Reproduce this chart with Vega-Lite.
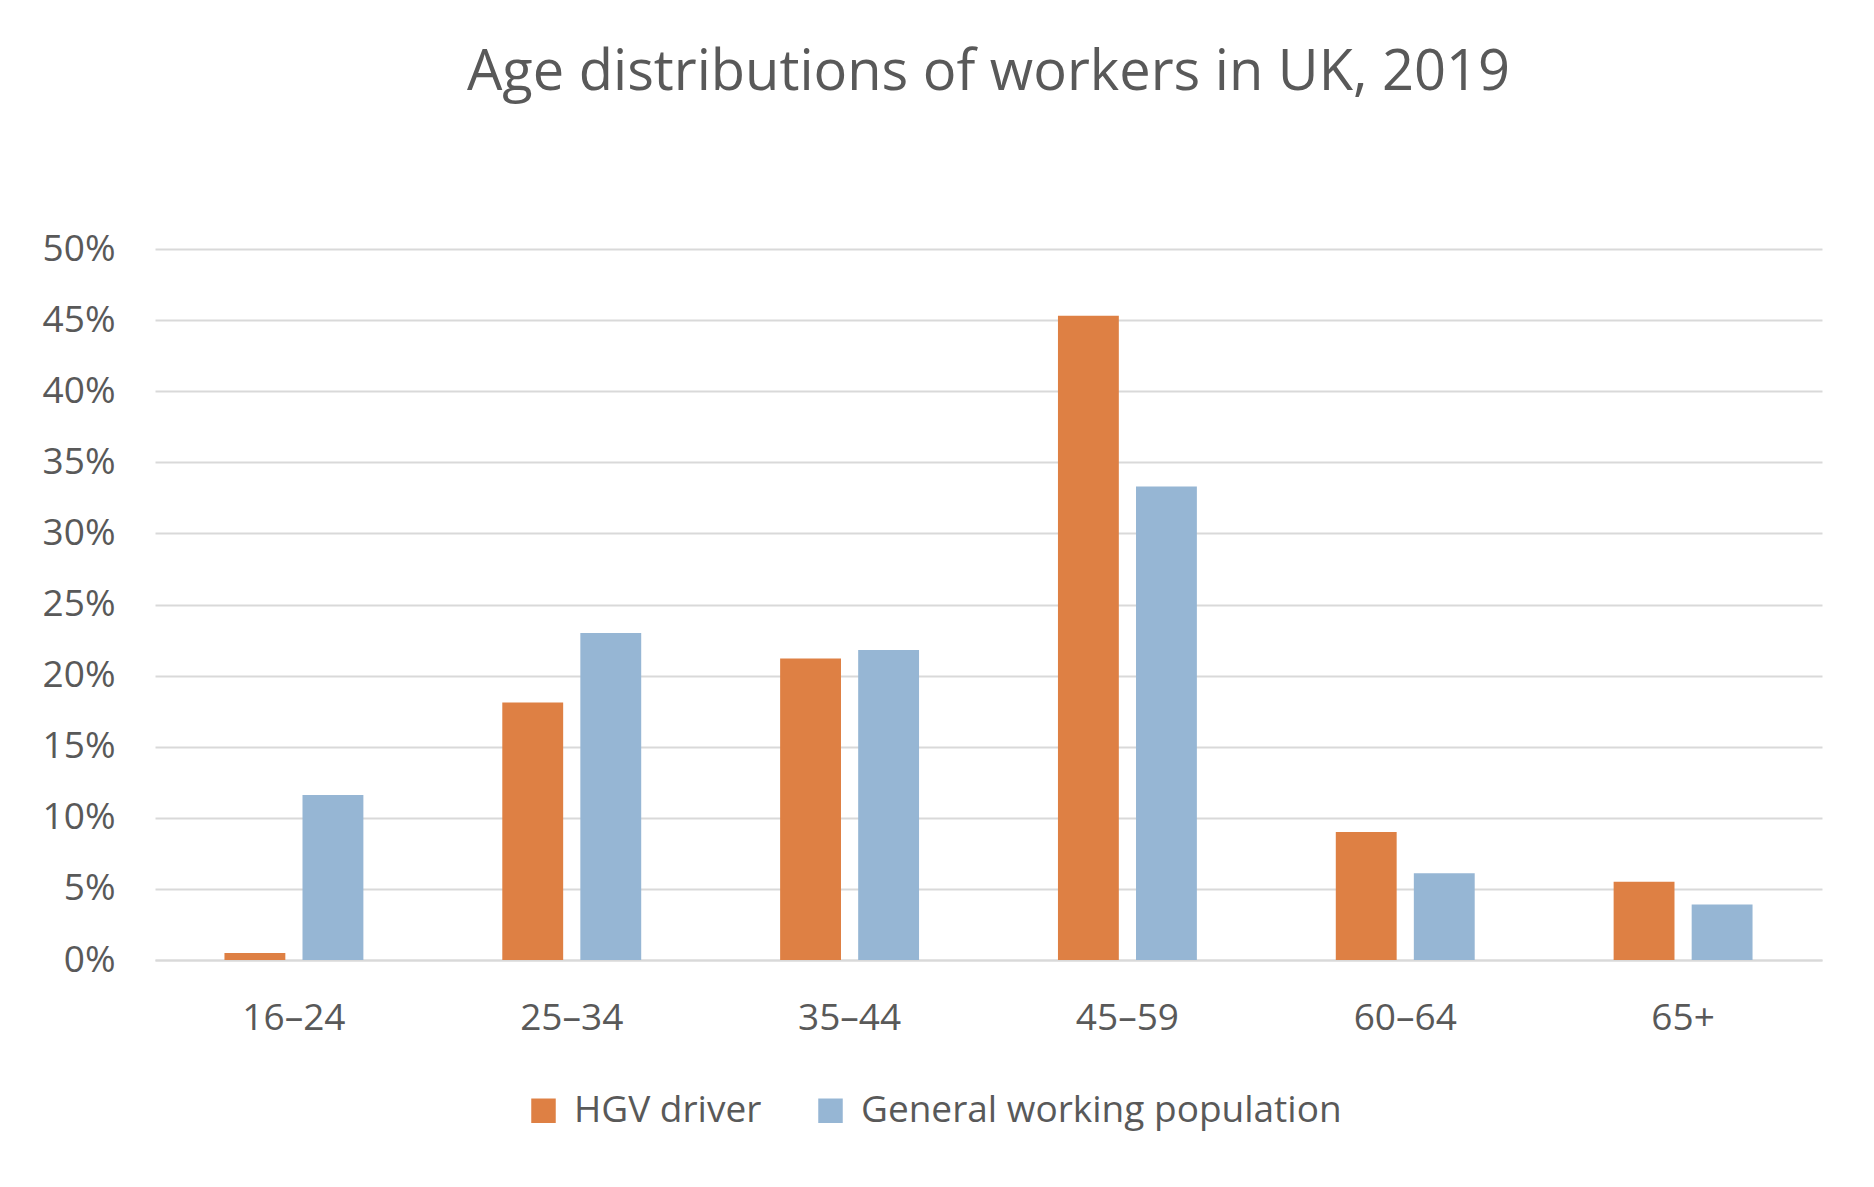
{
  "$schema": "https://vega.github.io/schema/vega-lite/v6.json",
  "autosize": "none",
  "width": 1667,
  "height": 711,
  "padding": {"left": 155, "top": 249, "right": 52, "bottom": 227},
  "background": "#ffffff",
  "title": {
    "text": "Age distributions of workers in UK, 2019",
    "font": "Open Sans",
    "fontSize": 56,
    "fontWeight": "normal",
    "color": "#595959",
    "anchor": "middle",
    "offset": 128
  },
  "data": {
    "values": [
      {"age": "16–24", "group": "HGV driver", "share": 0.005},
      {"age": "16–24", "group": "General working population", "share": 0.116},
      {"age": "25–34", "group": "HGV driver", "share": 0.181},
      {"age": "25–34", "group": "General working population", "share": 0.230},
      {"age": "35–44", "group": "HGV driver", "share": 0.212},
      {"age": "35–44", "group": "General working population", "share": 0.218},
      {"age": "45–59", "group": "HGV driver", "share": 0.453},
      {"age": "45–59", "group": "General working population", "share": 0.333},
      {"age": "60–64", "group": "HGV driver", "share": 0.090},
      {"age": "60–64", "group": "General working population", "share": 0.061},
      {"age": "65+", "group": "HGV driver", "share": 0.055},
      {"age": "65+", "group": "General working population", "share": 0.039}
    ]
  },
  "mark": {"type": "bar"},
  "encoding": {
    "x": {
      "field": "age",
      "type": "nominal",
      "sort": null,
      "scale": {"paddingInner": 0.5, "paddingOuter": 0.25},
      "axis": {
        "title": null,
        "labelAngle": 0,
        "ticks": false,
        "domainColor": "#d9d9d9",
        "domainWidth": 2,
        "labelPadding": 40,
        "labelFontSize": 37,
        "labelFont": "Open Sans",
        "labelColor": "#595959"
      }
    },
    "xOffset": {
      "field": "group",
      "type": "nominal",
      "sort": ["HGV driver", "General working population"],
      "scale": {"paddingInner": 0.22}
    },
    "y": {
      "field": "share",
      "type": "quantitative",
      "scale": {"domain": [0, 0.5]},
      "axis": {
        "title": null,
        "format": ".0%",
        "values": [0, 0.05, 0.1, 0.15, 0.2, 0.25, 0.3, 0.35, 0.4, 0.45, 0.5],
        "labelOverlap": false,
        "domain": false,
        "ticks": false,
        "gridColor": "#d9d9d9",
        "gridWidth": 2,
        "labelPadding": 40,
        "labelFontSize": 37,
        "labelFont": "Open Sans",
        "labelColor": "#595959"
      }
    },
    "color": {
      "field": "group",
      "type": "nominal",
      "sort": ["HGV driver", "General working population"],
      "scale": {"range": ["#DE8044", "#96B6D4"]},
      "legend": {
        "title": null,
        "orient": "none",
        "direction": "horizontal",
        "legendX": 370,
        "legendY": 843,
        "symbolType": "square",
        "symbolSize": 600,
        "symbolStrokeWidth": 0,
        "labelFontSize": 37,
        "labelFont": "Open Sans",
        "labelColor": "#595959",
        "labelLimit": 0,
        "columnPadding": 50,
        "labelOffset": 12
      }
    }
  },
  "config": {"view": {"stroke": null}}
}
